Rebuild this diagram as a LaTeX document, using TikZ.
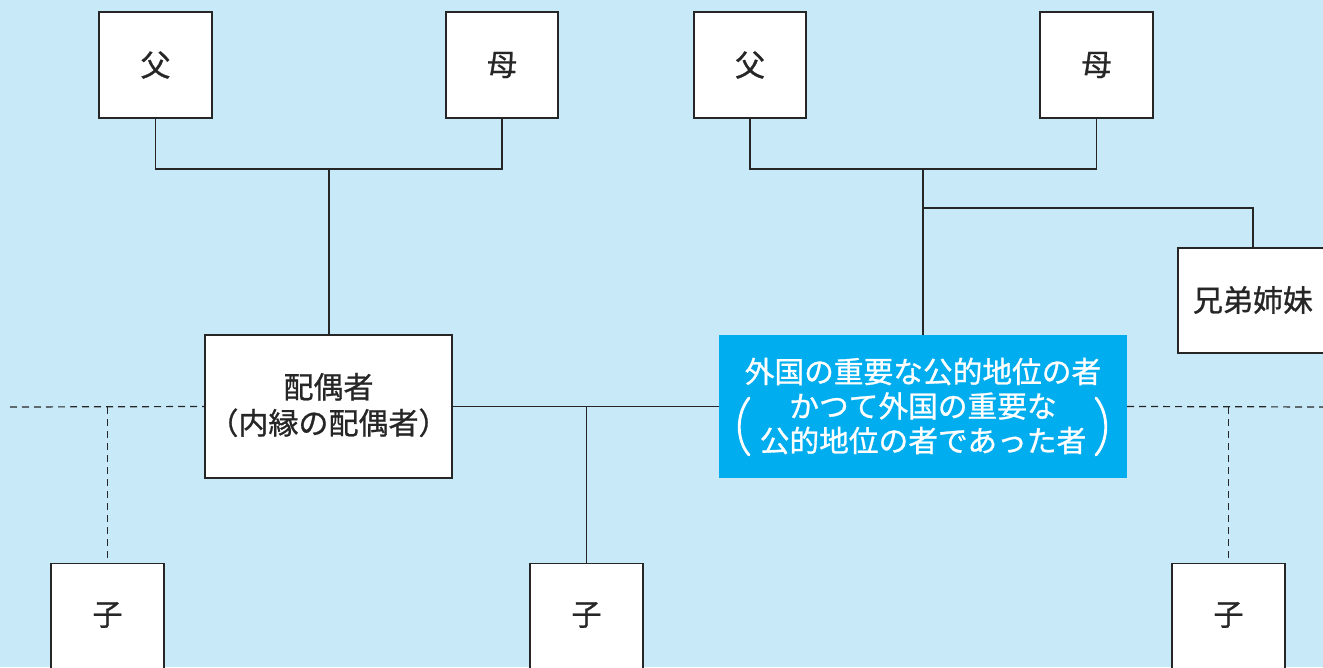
\documentclass[tikz,border=0pt]{standalone}
\usepackage{fontspec}
\newfontfamily\jp[FakeBold=0.9]{Noto Sans CJK JP}
\definecolor{bgblue}{HTML}{C7E9F8}
\definecolor{boxblue}{HTML}{00ADEE}
\definecolor{ink}{HTML}{262626}
\begin{document}
\begin{tikzpicture}[x=1pt,y=-1pt,
  conn/.style={draw=ink,line width=1.3pt},
  dconn/.style={draw=ink,line width=1.2pt,dash pattern=on 7pt off 5pt},
  wbox/.style={draw=ink,fill=white,line width=1.3pt,inner sep=0pt},
  lbl/.style={font=\jp\fontsize{30}{36}\selectfont,text=ink,align=center,inner sep=0pt},
  wlbl/.style={font=\jp\fontsize{29.7}{34.5}\selectfont,text=white,align=center,inner sep=0pt},
  paren/.style={draw=white,line width=2.8pt,line cap=round}]
\clip (0,0) rectangle (1323,667);
\fill[bgblue] (0,0) rectangle (1323,667);
% top boxes
\node[wbox,minimum width=113pt,minimum height=106pt] (fL) at (155.5,65) {};
\node[lbl] (fLt) at (155.5,65) {父};
\node[wbox,minimum width=112pt,minimum height=106pt] (mL) at (502,65) {};
\node[lbl] (mLt) at (502,65) {母};
\node[wbox,minimum width=112pt,minimum height=106pt] (fR) at (750,65) {};
\node[lbl] (fRt) at (750,65) {父};
\node[wbox,minimum width=113pt,minimum height=106pt] (mR) at (1096.5,65) {};
\node[lbl] (mRt) at (1096.5,65) {母};
% siblings
\node[wbox,minimum width=150pt,minimum height=105pt] (sib) at (1253,300.5) {};
\node[lbl] (sibt) at (1253,300) {兄弟姉妹};
% spouse
\node[wbox,minimum width=247pt,minimum height=143pt] (sp) at (328.5,406.5) {};
\node[lbl] (spt) at (328.5,405) {配偶者\\（内縁の配偶者）};
% PEP box
\node[fill=boxblue,minimum width=408pt,minimum height=143pt,inner sep=0pt] (pep) at (923,406.5) {};
\node[wlbl] (pept) at (923,406) {外国の重要な公的地位の者\\かつて外国の重要な\\公的地位の者であった者};
\draw[paren] (749,398) .. controls (736,414) and (736,440) .. (749,455);
\draw[paren] (1096,398) .. controls (1109,414) and (1109,440) .. (1096,455);
% children
\node[wbox,minimum width=113pt,minimum height=130pt,anchor=north] (k1) at (107.5,563) {};
\node[lbl] (k1t) at (107.5,615) {子};
\node[wbox,minimum width=113pt,minimum height=130pt,anchor=north] (k2) at (586.5,563) {};
\node[lbl] (k2t) at (586.5,615) {子};
\node[wbox,minimum width=113pt,minimum height=130pt,anchor=north] (k3) at (1228.5,563) {};
\node[lbl] (k3t) at (1228.5,615) {子};
% junctions
\coordinate (j1) at (329,169);
\coordinate (j2) at (923,169);
\coordinate (j3) at (923,208);
\coordinate (j4) at (586.5,407);
\coordinate (j5) at (107.5,407);
\coordinate (j6) at (1228.5,407);
\coordinate (lend) at (10,407);
\coordinate (rend) at (1330,407);
% connectors
\draw[conn] (fL.south) |- (j1) -| (mL.south);
\draw[conn] (j1) -- (j1 |- sp.north);
\draw[conn] (fR.south) |- (j2) -| (mR.south);
\draw[conn] (j2) -- (j2 |- pep.north);
\draw[conn] (j3) -| (sib.north);
\draw[conn] (sp.east) -- (pep.west);
\draw[conn] (j4) -- (k2.north);
\draw[dconn] (lend) -- (sp.west);
\draw[dconn] (j5) -- (k1.north);
\draw[dconn] (pep.east) -- (rend);
\draw[dconn] (j6) -- (k3.north);
\end{tikzpicture}
\end{document}
